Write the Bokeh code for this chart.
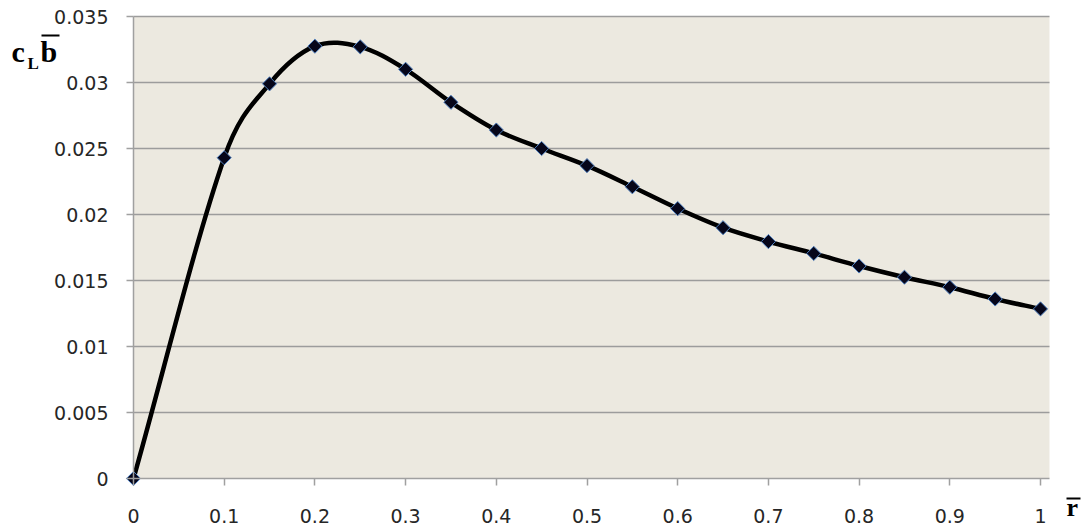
import numpy as np
from bokeh.plotting import figure
from bokeh.models import (Range1d, FixedTicker, Label, BoxAnnotation, ColumnDataSource,
                          LinearAxis)
from bokeh.embed import file_html
from bokeh.resources import INLINE

# ---- data ----
r_vals = [0.0, 0.1, 0.15, 0.2, 0.25, 0.3, 0.35, 0.4, 0.45, 0.5, 0.55, 0.6,
          0.65, 0.7, 0.75, 0.8, 0.85, 0.9, 0.95, 1.0]
clb_vals = [0.0, 0.0243, 0.0299, 0.03275, 0.0327, 0.0310, 0.0285, 0.0264, 0.0250,
            0.0237, 0.0221, 0.02045, 0.0190, 0.01795, 0.01705, 0.0161, 0.01525,
            0.01449, 0.0136, 0.01285]
x_ticks = [0.0, 0.1, 0.2, 0.3, 0.4, 0.5, 0.6, 0.7, 0.8, 0.9, 1.0]
x_tick_labels = ["0", "0.1", "0.2", "0.3", "0.4", "0.5", "0.6", "0.7", "0.8", "0.9", "1"]
y_ticks = [0.0, 0.005, 0.01, 0.015, 0.02, 0.025, 0.03, 0.035]
y_tick_labels = ["0", "0.005", "0.01", "0.015", "0.02", "0.025", "0.03", "0.035"]

# plot-area extent (data units)
X_END = 1.0099
Y_END = 0.035

# ---- smoothed curve: cubic Hermite (Bezier) through the data points ----
xs = np.array(r_vals)
ys = np.array(clb_vals)
n = len(xs)
m = np.zeros(n)
m[0] = (ys[1] - ys[0]) / (xs[1] - xs[0])
m[-1] = (ys[-1] - ys[-2]) / (xs[-1] - xs[-2])
for i in range(1, n - 1):
    m[i] = (ys[i + 1] - ys[i - 1]) / (xs[i + 1] - xs[i - 1])
seg = dict(x0=[], y0=[], x1=[], y1=[], cx0=[], cy0=[], cx1=[], cy1=[])
for i in range(n - 1):
    h = xs[i + 1] - xs[i]
    seg["x0"].append(xs[i]); seg["y0"].append(ys[i])
    seg["x1"].append(xs[i + 1]); seg["y1"].append(ys[i + 1])
    seg["cx0"].append(xs[i] + h / 3.0)
    seg["cy0"].append(ys[i] + m[i] * h / 3.0)
    seg["cx1"].append(xs[i + 1] - h / 3.0)
    seg["cy1"].append(ys[i + 1] - m[i + 1] * h / 3.0)

W, H = 1083, 531
# pixel placement of the plot area: x=0 at 133px, x=1 at 1040px; y=0 at 478px, y=0.035 at 16px
x_px_per = 907.0
y_px_per = 462.0 / 0.035
x_range = Range1d(-133 / x_px_per, (W - 133) / x_px_per)
y_range = Range1d(-(H - 478) / y_px_per, 478 / y_px_per)

p = figure(width=W, height=H, output_backend="svg", toolbar_location=None,
           x_range=x_range, y_range=y_range,
           x_axis_location=None, y_axis_location=None,
           min_border=0, min_border_left=0, min_border_right=0,
           min_border_top=0, min_border_bottom=0)
p.background_fill_color = "white"
p.border_fill_color = "white"
p.outline_line_color = None
p.xgrid.visible = False
p.ygrid.visible = False

# plot area background
p.add_layout(BoxAnnotation(left=0, right=X_END, bottom=0, top=Y_END,
                           fill_color="#ECE9E0", fill_alpha=1, line_color=None,
                           level="underlay"))

# horizontal grid lines at the y ticks
gy = y_ticks[1:]
p.segment(x0=[0] * len(gy), x1=[X_END] * len(gy), y0=gy, y1=gy,
          line_color="#9c9c9c", line_width=1.5)

xaxis = LinearAxis(fixed_location=0, bounds=(0, X_END))
yaxis = LinearAxis(fixed_location=0, bounds=(0, Y_END))
for ax in (xaxis, yaxis):
    ax.axis_line_color = "#a0a0a0"
    ax.axis_line_width = 1.5
    ax.major_tick_line_color = "#a0a0a0"
    ax.major_tick_line_width = 1.5
    ax.major_tick_in = 0
    ax.minor_tick_line_color = None
    ax.major_label_text_font = "DejaVu Sans"
    ax.major_label_text_font_size = "19px"
    ax.major_label_text_color = "#262626"
xaxis.ticker = FixedTicker(ticks=x_ticks)
xaxis.major_label_overrides = {t: l for t, l in zip(x_ticks, x_tick_labels)}
xaxis.major_tick_out = 7
xaxis.major_label_standoff = 23
yaxis.ticker = FixedTicker(ticks=y_ticks)
yaxis.major_label_overrides = {t: l for t, l in zip(y_ticks, y_tick_labels)}
yaxis.major_tick_out = 7
yaxis.major_label_standoff = 18
p.add_layout(xaxis, "below")
p.add_layout(yaxis, "left")

p.bezier(source=ColumnDataSource(seg), x0="x0", y0="y0", x1="x1", y1="y1",
         cx0="cx0", cy0="cy0", cx1="cx1", cy1="cy1", line_color="black", line_width=4.5)
p.scatter(r_vals, clb_vals, marker="square", angle=np.pi / 4, size=10,
          fill_color="#06061a", line_color="#4f7fbf", line_width=1)

# ---- axis titles (screen units: x from left, y from bottom of the canvas) ----
serif = "Liberation Serif"
def lab(x, y, t, size):
    p.add_layout(Label(x=x, y=H - y, x_units="screen", y_units="screen", text=t,
                       text_font=serif, text_font_style="bold", text_font_size=size,
                       text_baseline="alphabetic", text_align="left", text_color="black"))
def bar(x0, x1, ytop, thick=2):
    p.add_layout(BoxAnnotation(left=x0, right=x1, top=H - ytop, bottom=H - ytop - thick,
                               left_units="screen", right_units="screen",
                               top_units="screen", bottom_units="screen",
                               fill_color="black", fill_alpha=1, line_color=None))

lab(11, 51, "c", "30px")
lab(27, 63, "L", "17px")
lab(40, 51, "b", "30px")
bar(41, 59, 34)
lab(1066, 507, "r", "26px")
bar(1066, 1080, 497)

open("out.html", "w").write(file_html(p, INLINE))
